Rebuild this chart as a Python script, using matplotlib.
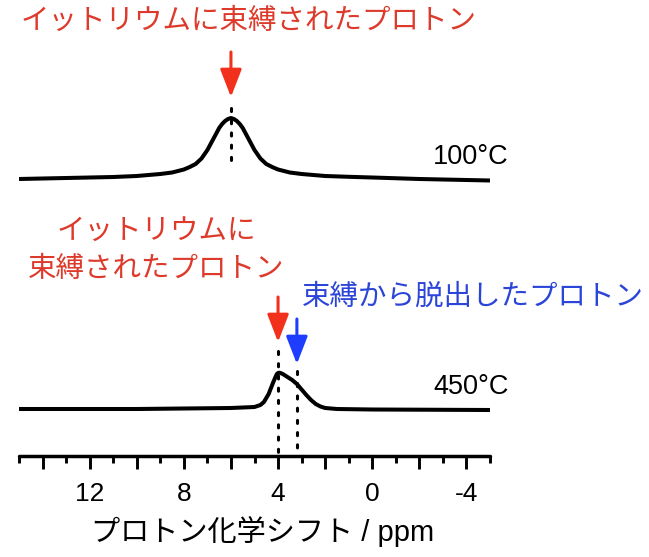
import matplotlib
matplotlib.use("Agg")
import matplotlib.pyplot as plt
from matplotlib.ticker import FixedLocator, FuncFormatter

plt.rcParams["font.family"] = ["Liberation Sans", "Noto Sans CJK JP", "DejaVu Sans"]
plt.rcParams["axes.unicode_minus"] = False

# ---- data (heights in arbitrary units above each baseline) ----
ppm_100 = [15, 13, 11, 10, 9, 8.5, 8, 7.75, 7.5, 7.25, 7, 6.75, 6.5, 6.375, 6.25, 6.125, 6,
           5.875, 5.75, 5.625, 5.5, 5.25, 5, 4.75, 4.5, 4.25, 4, 3.5, 3, 2.5, 2, 1, 0, -2, -5]
int_100 = [2, 3, 4, 5, 7, 8.5, 11.5, 14, 17, 22.5, 31, 42, 53, 57, 60, 62, 63,
           62, 60, 57, 53, 42, 31, 22.5, 17, 14, 11.5, 8.5, 7, 6, 5, 4.2, 3.5, 2, 0.5]

ppm_450 = [15, 10, 8, 6, 5.5, 5, 4.75, 4.6, 4.5, 4.4, 4.3, 4.2, 4.1, 4.05, 4.0, 3.95, 3.9, 3.8,
           3.6, 3.4, 3.2, 3.0, 2.8, 2.6, 2.4, 2.2, 2.0, 1.5, 0, -5]
int_450 = [1, 1, 1.5, 2, 2.5, 3, 5, 8, 12, 16, 22, 28, 33.5, 36, 37, 37.3, 37, 36,
           33, 30, 26, 20.5, 15, 10, 6, 3.5, 2, 1, 0.5, 0]

bound_ppm = [6.0, 4.0]      # yttrium-bound proton (100C, 450C)
free_ppm = 3.2              # released proton at 450C
temps = ["100°C", "450°C"]
major_ticks = [14, 12, 10, 8, 6, 4, 2, 0, -2, -4]
minor_ticks = [15, 13, 11, 9, 7, 5, 3, 1, -1, -3, -5]
labeled = [12, 8, 4, 0, -4]

RED, RED_TXT = "#f2311c", "#de3a2b"
BLUE, BLUE_TXT = "#1f3dff", "#2b45d8"
W, H = 649, 557

fig = plt.figure(figsize=(W / 100, H / 100), dpi=100)
# axes spans the plotting width; y in pixel rows (downwards)
ax = fig.add_axes([19 / W, 0, 471 / W, 1])
ax.set_xlim(15, -5)
ax.set_ylim(H, 0)
ax.patch.set_visible(False)

base_100, base_450 = 181, 410
ax.plot(ppm_100, [base_100 - v for v in int_100], color="black", lw=2.9,
        solid_capstyle="butt", solid_joinstyle="round")
ax.plot(ppm_450, [base_450 - v for v in int_450], color="black", lw=2.9,
        solid_capstyle="butt", solid_joinstyle="round")

dots = dict(color="black", lw=2.2, linestyle=(0, (1, 3.0)), dash_capstyle="round")
ax.plot([bound_ppm[0]] * 2, [108, 168], **dots)
ax.plot([bound_ppm[1]] * 2, [351, 452], **dots)
ax.plot([free_ppm] * 2, [371, 452], **dots)

def arrow(x, y0, y1, col):
    ax.annotate("", xy=(x, y1), xytext=(x, y0),
                arrowprops=dict(arrowstyle="-|>,head_length=0.85,head_width=0.33",
                                mutation_scale=20, lw=2.2, color=col,
                                shrinkA=0, shrinkB=0))

arrow(bound_ppm[0], 52, 97, RED)
arrow(bound_ppm[1], 297, 342, RED)
arrow(free_ppm, 319, 364, BLUE)

# ---- x axis ----
for s in ["left", "right", "top"]:
    ax.spines[s].set_visible(False)
ax.spines["bottom"].set_position(("data", 456))
ax.spines["bottom"].set_linewidth(2.5)
ax.spines["bottom"].set_capstyle("round")
ax.yaxis.set_visible(False)
ax.xaxis.set_major_locator(FixedLocator(major_ticks))
ax.xaxis.set_minor_locator(FixedLocator(minor_ticks))
ax.xaxis.set_major_formatter(FuncFormatter(lambda v, p: f"{int(v)}" if int(v) in labeled else ""))
ax.tick_params(axis="x", which="major", direction="out", length=9, width=2.1,
               labelsize=19, pad=10)
ax.tick_params(axis="x", which="minor", direction="out", length=4.8, width=2.1)

# ---- texts ----
def ftext(x, y, s, **kw):
    fig.text(x / W, 1 - y / H, s, va="center", **kw)

ftext(249, 22, "イットリウムに束縛されたプロトン", ha="center", fontsize=20.5, color=RED_TXT)
ftext(156, 232, "イットリウムに", ha="center", fontsize=20.5, color=RED_TXT)
ftext(156, 270, "束縛されたプロトン", ha="center", fontsize=20.5, color=RED_TXT)
ftext(302, 297, "束縛から脱出したプロトン", ha="left", fontsize=20.5, color=BLUE_TXT)
ftext(433, 157, temps[0], ha="left", fontsize=19.5)
ftext(433, 387, temps[1], ha="left", fontsize=19.5)
ftext(263, 532, "プロトン化学シフト / ppm", ha="center", fontsize=21)

fig.savefig("out.png", dpi=100)
